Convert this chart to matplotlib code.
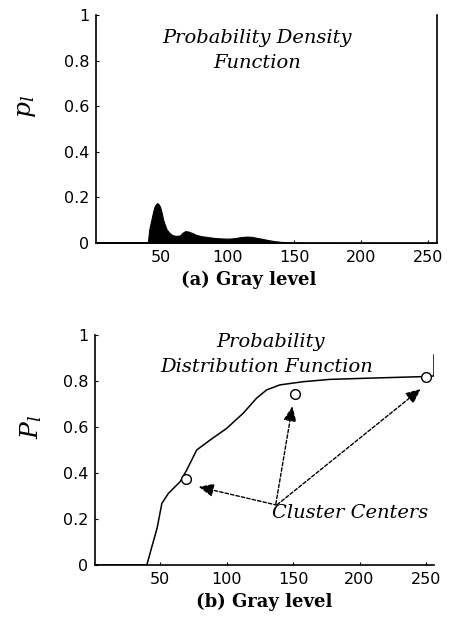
import matplotlib
matplotlib.use('Agg')
import matplotlib.pyplot as plt
import numpy as np

# (a) probability density
pdf_gray = [1, 38, 40, 41, 42.5, 44, 45, 46, 47, 48, 49, 50, 51.5, 53, 54, 56, 58, 61, 64, 66, 68,
            70.5, 73, 76, 80, 85, 90, 95, 100, 105, 110, 114, 118, 122, 126, 130, 135, 140, 145,
            150, 160, 256]
pdf_val = [0.004, 0.004, 0.005, 0.06, 0.10, 0.14, 0.16, 0.17, 0.175, 0.17, 0.16, 0.14, 0.10, 0.075,
           0.06, 0.045, 0.035, 0.031, 0.033, 0.045, 0.052, 0.05, 0.044, 0.036, 0.03, 0.026, 0.022,
           0.02, 0.019, 0.021, 0.026, 0.028, 0.027, 0.022, 0.018, 0.013, 0.008, 0.005, 0.003,
           0.002, 0.001, 0.0]

# (b) probability distribution
cdf_gray = [1, 40, 43.8, 47.7, 51.3, 56.3, 65, 70, 77.5, 87.5, 100, 112.5, 122.5, 130, 140,
            157.7, 177.5, 205, 247.5, 256, 256]
cdf_val = [0, 0, 0.08, 0.16, 0.268, 0.312, 0.362, 0.413, 0.5, 0.543, 0.594, 0.66, 0.725, 0.761,
           0.783, 0.797, 0.807, 0.812, 0.819, 0.822, 0.913]

# cluster centers
centers_x = [69.5, 151.8, 250]
centers_y = [0.372, 0.743, 0.819]

# arrow tails / heads
arrow_from = [(138, 0.26), (137, 0.265), (138, 0.262)]
arrow_to = [(79, 0.34), (149.5, 0.69), (246, 0.765)]

yticks = [0, 0.2, 0.4, 0.6, 0.8, 1]
ytick_labels = ['0', '0.2', '0.4', '0.6', '0.8', '1']
xticks = [50, 100, 150, 200, 250]

plt.rcParams['mathtext.fontset'] = 'dejavuserif'

fig = plt.figure(figsize=(4.51, 6.18), dpi=100)
ax1 = fig.add_axes([96 / 451, 375 / 618, 341 / 451, 228 / 618])
ax2 = fig.add_axes([95 / 451, 53 / 618, 339 / 451, 230 / 618])

serif = 'DejaVu Serif'

for ax in (ax1, ax2):
    ax.set_ylim(0, 1)
    ax.set_yticks(yticks)
    ax.set_yticklabels(ytick_labels)
    ax.set_xticks(xticks)
    ax.tick_params(direction='in', length=2, width=0.8, labelsize=11.5, pad=5)
    ax.spines['top'].set_visible(False)
    for s in ax.spines.values():
        s.set_linewidth(1.2)

ax1.set_xlim(1, 257)
ax2.set_xlim(1, 256)
ax2.spines['right'].set_visible(False)

# top: density
ax1.fill_between(pdf_gray, pdf_val, 0, color='black', lw=0.8)
ax1.text(122, 0.898, 'Probability Density', ha='center', va='center',
         family=serif, style='italic', fontsize=14)
ax1.text(122, 0.788, 'Function', ha='center', va='center',
         family=serif, style='italic', fontsize=14)
ax1.set_xlabel('(a) Gray level', family=serif, weight='bold', fontsize=13, labelpad=2)
ax1.xaxis.set_label_coords(0.449, -0.12)
ax1.set_ylabel(r'$p_l$', fontsize=18, rotation=90)
ax1.yaxis.set_label_coords(-0.17, 0.6)

# bottom: distribution
ax2.plot(cdf_gray, cdf_val, color='black', lw=1.1)
ax2.plot(centers_x, centers_y, 'o', mfc='white', mec='black', ms=7, mew=1.0)
for (x0, y0), (x1, y1) in zip(arrow_from, arrow_to):
    ax2.annotate('', xy=(x1, y1), xytext=(x0, y0),
                 arrowprops=dict(arrowstyle='-|>,head_length=0.9,head_width=0.4',
                                 color='black', lw=1.0, ls=(0, (2.5, 1.5)),
                                 shrinkA=0, shrinkB=0))
ax2.text(134, 0.226, 'Cluster Centers', ha='left', va='center',
         family=serif, style='italic', fontsize=14)
ax2.text(133, 0.971, 'Probability', ha='center', va='center',
         family=serif, style='italic', fontsize=14)
ax2.text(130, 0.862, 'Distribution Function', ha='center', va='center',
         family=serif, style='italic', fontsize=14)
ax2.set_xlabel('(b) Gray level', family=serif, weight='bold', fontsize=13, labelpad=2)
ax2.xaxis.set_label_coords(0.5, -0.12)
ax2.set_ylabel(r'$P_l$', fontsize=18, rotation=90)
ax2.yaxis.set_label_coords(-0.15, 0.6)

fig.savefig('out.png', dpi=100)
